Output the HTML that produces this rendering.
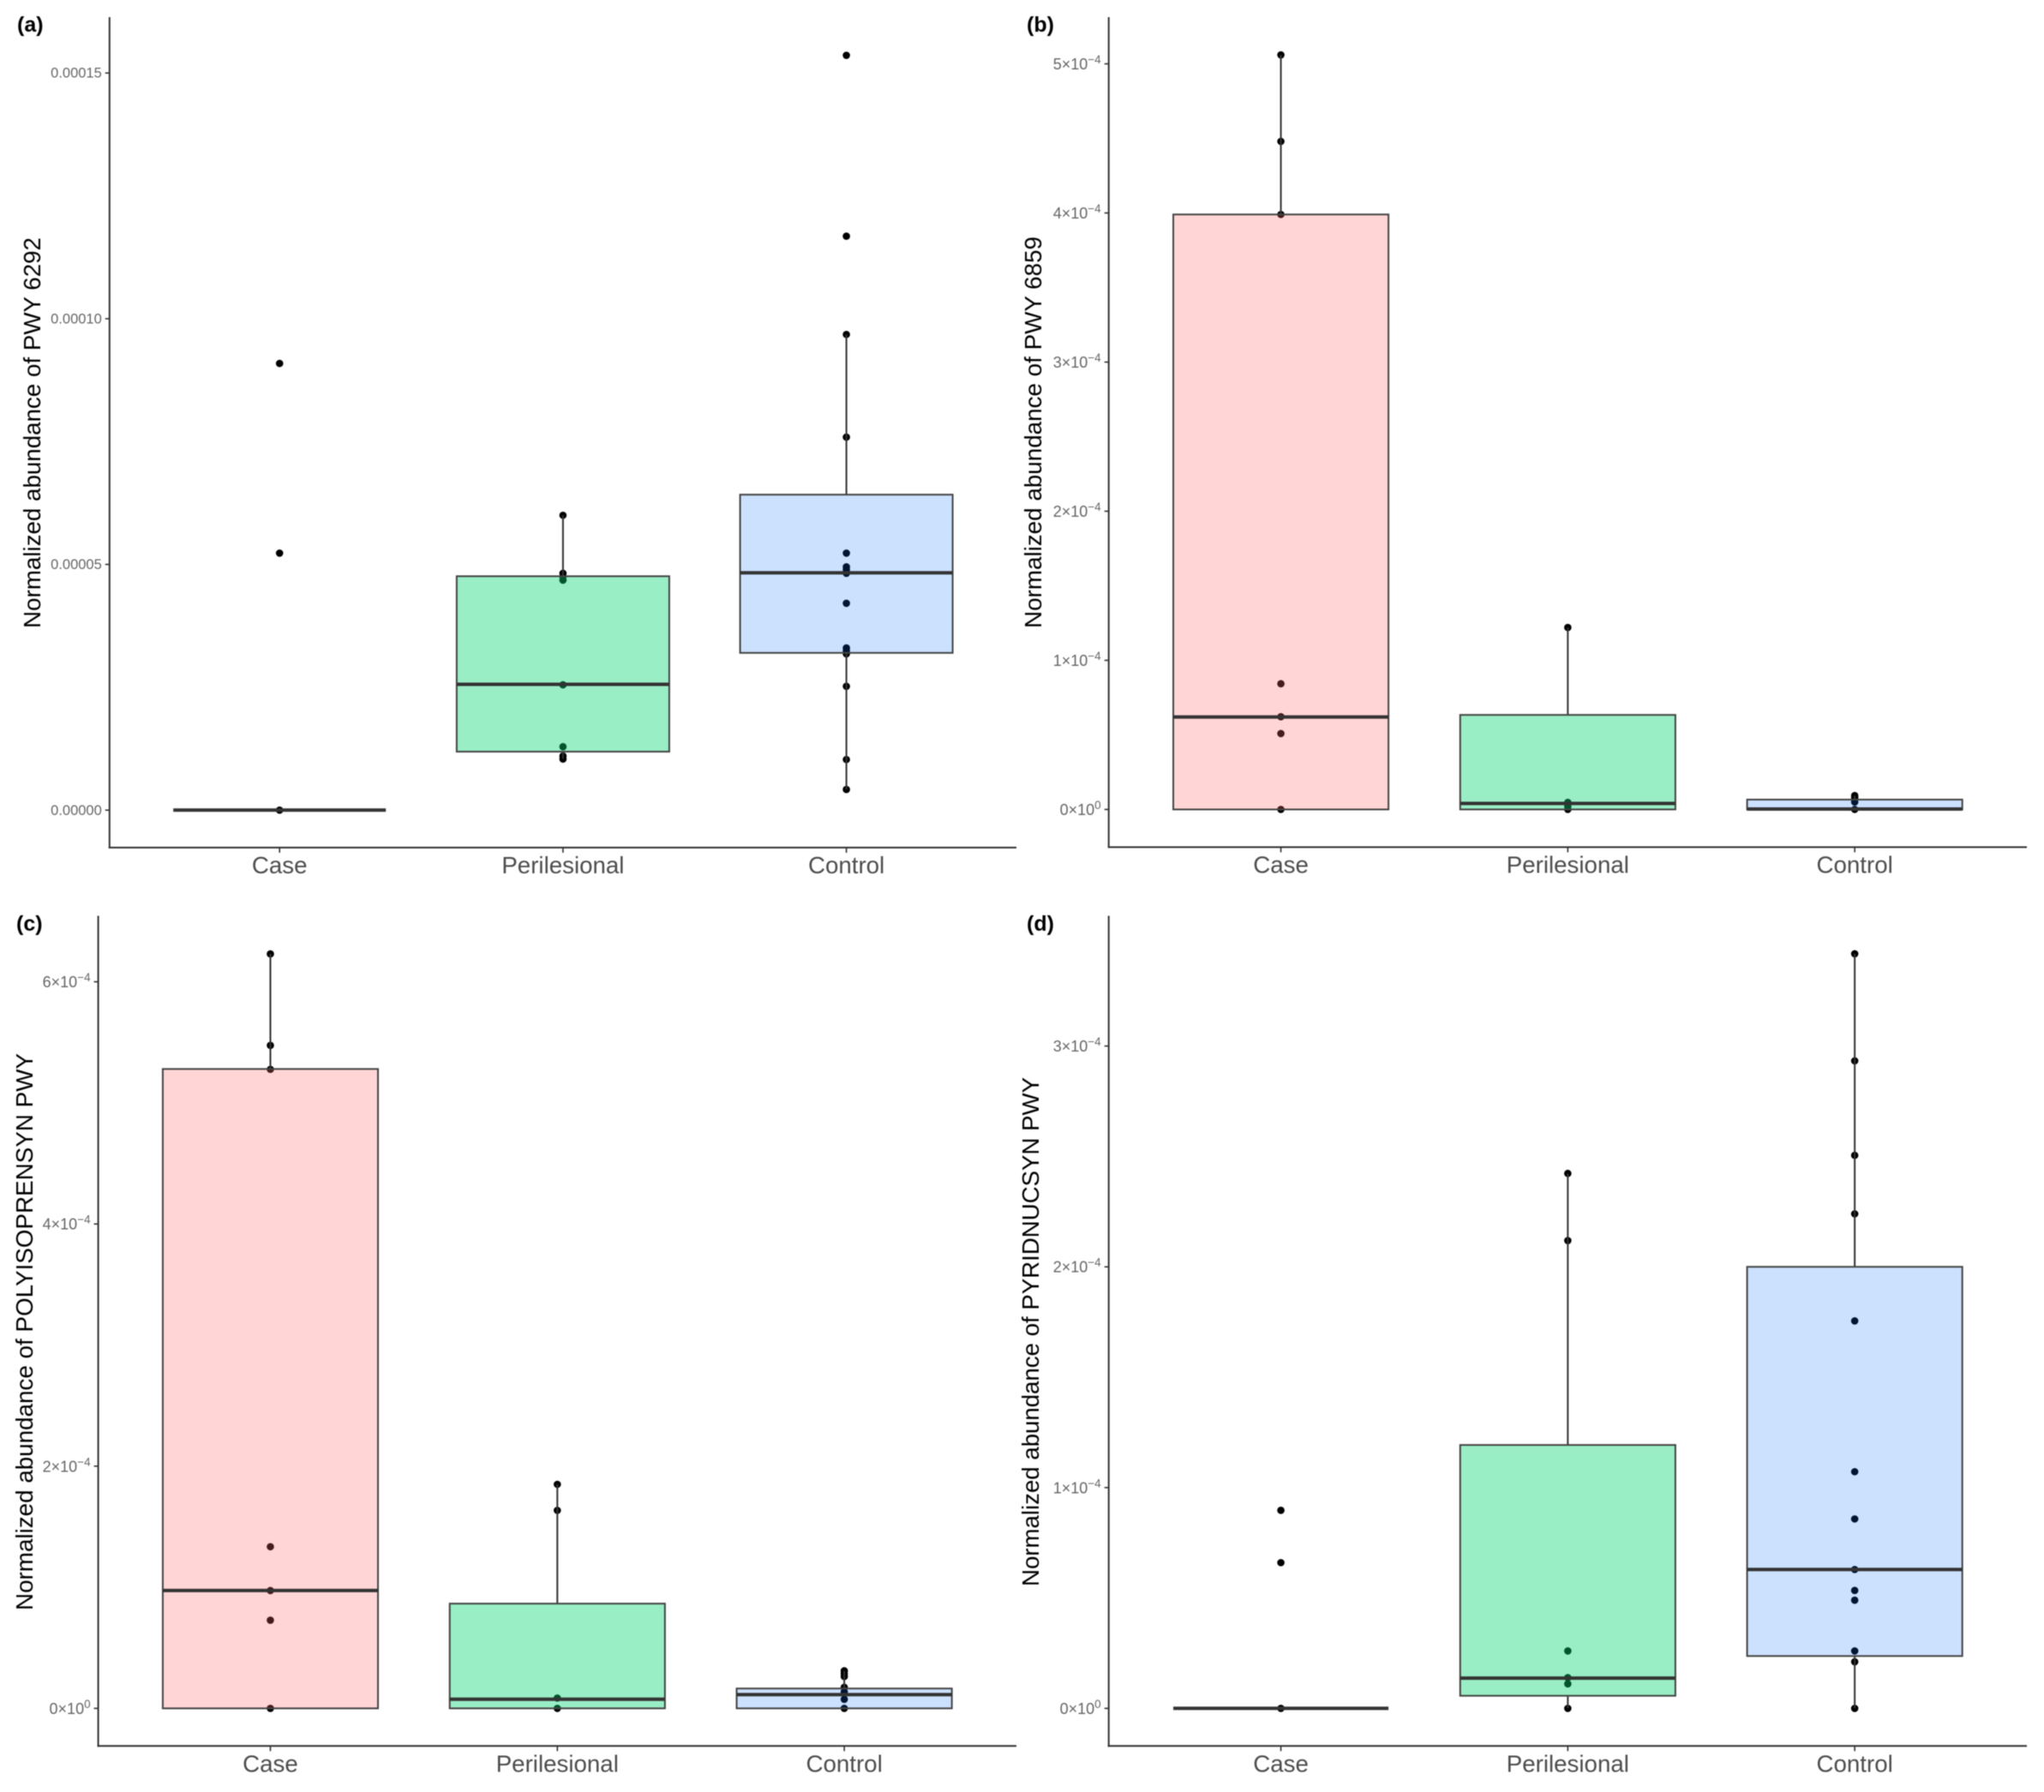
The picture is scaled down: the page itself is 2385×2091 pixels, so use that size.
<!DOCTYPE html>
<html lang="en">
<head>
<meta charset="utf-8">
<title>Normalized pathway abundance box plots</title>
<style>
html,body{margin:0;padding:0;background:#fff;}
body{width:2385px;height:2091px;overflow:hidden;}
svg{display:block;filter:blur(0.55px);}
text{font-family:"Liberation Sans",sans-serif;}
.panel-tag{font-size:25px;font-weight:bold;fill:#000;}
.y-title{font-size:28px;fill:#000;}
</style>
</head>
<body>
<svg id="chart" xmlns="http://www.w3.org/2000/svg" width="2385" height="2091" viewBox="0 0 2385 2091">
  <rect x="0" y="0" width="2385" height="2091" fill="#ffffff"/>
  <g id="panel-a">
    <text class="panel-tag" x="20" y="37">(a)</text>
    <text class="y-title" transform="translate(47,733) rotate(-90)" textLength="456" lengthAdjust="spacingAndGlyphs">Normalized abundance of PWY 6292</text>
  </g>
  <g id="panel-b">
    <text class="panel-tag" x="1198" y="37">(b)</text>
    <text class="y-title" transform="translate(1215,733) rotate(-90)" textLength="457" lengthAdjust="spacingAndGlyphs">Normalized abundance of PWY 6859</text>
  </g>
  <g id="panel-c">
    <text class="panel-tag" x="19" y="1086">(c)</text>
    <text class="y-title" transform="translate(38,1879) rotate(-90)" textLength="650" lengthAdjust="spacingAndGlyphs">Normalized abundance of POLYISOPRENSYN PWY</text>
  </g>
  <g id="panel-d">
    <text class="panel-tag" x="1198" y="1086">(d)</text>
    <text class="y-title" transform="translate(1212,1851) rotate(-90)" textLength="594" lengthAdjust="spacingAndGlyphs">Normalized abundance of PYRIDNUCSYN PWY</text>
  </g>
</svg>
<script>
// ---------- Shared categories ----------
const categories = ["Case", "Perilesional", "Control"];

// ---------- Panel (a): PWY 6292 ----------
const aTicks = [0, 0.00005, 0.0001, 0.00015];
const aTickLabels = ["0.00000", "0.00005", "0.00010", "0.00015"];
const aQ1 = [0, 1.19e-5, 3.20e-5];
const aMedian = [0, 2.56e-5, 4.83e-5];
const aQ3 = [0, 4.76e-5, 6.42e-5];
const aWhiskerLow = [0, 1.04e-5, 0.42e-5];
const aWhiskerHigh = [0, 6.0e-5, 9.68e-5];
const aCasePoints = [9.09e-5, 5.23e-5, 0];
const aPerilesionalPoints = [6.0e-5, 4.82e-5, 4.75e-5, 4.68e-5, 2.55e-5, 1.29e-5, 1.10e-5, 1.04e-5];
const aControlPoints = [15.36e-5, 11.68e-5, 9.68e-5, 7.59e-5, 5.23e-5, 4.95e-5, 4.89e-5, 4.82e-5, 4.21e-5, 3.30e-5, 3.24e-5, 3.18e-5, 2.52e-5, 1.03e-5, 0.42e-5];

// ---------- Panel (b): PWY 6859 ----------
const bTicks = [0, 1e-4, 2e-4, 3e-4, 4e-4, 5e-4];
const bTickMantissas = ["0", "1", "2", "3", "4", "5"];
const bTickExponents = ["0", "\u22124", "\u22124", "\u22124", "\u22124", "\u22124"];
const bQ1 = [0, 0, 0];
const bMedian = [0.62e-4, 0.04e-4, 0.003e-4];
const bQ3 = [3.99e-4, 0.634e-4, 0.066e-4];
const bWhiskerLow = [0, 0, 0];
const bWhiskerHigh = [5.06e-4, 1.22e-4, 0.093e-4];
const bCasePoints = [5.06e-4, 4.48e-4, 3.99e-4, 0.843e-4, 0.622e-4, 0.509e-4, 0];
const bPerilesionalPoints = [1.22e-4, 0.047e-4, 0.02e-4, 0];
const bControlPoints = [0.093e-4, 0.078e-4, 0.05e-4, 0];

// ---------- Panel (c): POLYISOPRENSYN PWY ----------
const cTicks = [0, 2e-4, 4e-4, 6e-4];
const cTickMantissas = ["0", "2", "4", "6"];
const cTickExponents = ["0", "\u22124", "\u22124", "\u22124"];
const cQ1 = [0, 0, 0];
const cMedian = [0.973e-4, 0.075e-4, 0.113e-4];
const cQ3 = [5.28e-4, 0.865e-4, 0.164e-4];
const cWhiskerLow = [0, 0, 0];
const cWhiskerHigh = [6.23e-4, 1.85e-4, 0.31e-4];
const cCasePoints = [6.23e-4, 5.475e-4, 5.277e-4, 1.335e-4, 0.973e-4, 0.728e-4, 0];
const cPerilesionalPoints = [1.85e-4, 1.635e-4, 0.085e-4, 0];
const cControlPoints = [0.31e-4, 0.287e-4, 0.263e-4, 0.174e-4, 0.136e-4, 0.075e-4, 0];

// ---------- Panel (d): PYRIDNUCSYN PWY ----------
const dTicks = [0, 1e-4, 2e-4, 3e-4];
const dTickMantissas = ["0", "1", "2", "3"];
const dTickExponents = ["0", "\u22124", "\u22124", "\u22124"];
const dQ1 = [0, 0.057e-4, 0.237e-4];
const dMedian = [0, 0.137e-4, 0.629e-4];
const dQ3 = [0, 1.193e-4, 2.0e-4];
const dWhiskerLow = [0, 0, 0];
const dWhiskerHigh = [0, 2.423e-4, 3.418e-4];
const dCasePoints = [0.897e-4, 0.66e-4, 0];
const dPerilesionalPoints = [2.423e-4, 2.119e-4, 0.26e-4, 0.139e-4, 0.111e-4, 0];
const dControlPoints = [3.418e-4, 2.933e-4, 2.505e-4, 2.24e-4, 1.755e-4, 1.072e-4, 0.858e-4, 0.629e-4, 0.534e-4, 0.49e-4, 0.26e-4, 0.211e-4, 0];

// ---------- Layout and drawing ----------
const NS = "http://www.w3.org/2000/svg";
const fills = [["#ff6764", 0.27], ["#02d46e", 0.4], ["#0069fa", 0.2]];

function make(tag, attrs, parent) {
  const node = document.createElementNS(NS, tag);
  for (const key in attrs) node.setAttribute(key, attrs[key]);
  parent.appendChild(node);
  return node;
}

function drawPanel(p) {
  const root = document.getElementById(p.id);
  const yOf = function (v) { return p.zeroY - v * p.pxPerUnit; };
  const step = (p.right - p.left) / 3.2;
  const xOf = function (i) { return p.left + step * (0.6 + i); };
  const boxW = step * 0.75;

  // axis lines
  const yAxis = make("line", {x1: p.left, x2: p.left, y1: p.top, y2: p.bottom + 1, stroke: "#333", "stroke-width": 2}, root);
  
  
  const xAxis = make("line", {x1: p.left - 1, x2: p.right, y1: p.bottom, y2: p.bottom, stroke: "#333", "stroke-width": 2}, root);
  
  

  // y ticks and labels
  p.ticks.forEach(function (t, i) {
    const y = yOf(t);
    const tick = make("line", {x1: p.left - 5, x2: p.left, y1: y, y2: y, stroke: "#333", "stroke-width": 1.6}, root);
    
    
    const label = make("text", {x: p.left - 9, y: y + (p.labels ? 5.5 : 6.5), "text-anchor": "end", "font-size": p.labels ? 16.5 : 18, fill: "#666"}, root);
    
    
    if (p.labels) {
      label.textContent = p.labels[i];
    } else {
      const base = make("tspan", {}, label);
      base.textContent = p.mantissas[i] + "\u00d710";
      const exp = make("tspan", {dy: -7, "font-size": 13.5}, label);
      exp.textContent = p.exponents[i];
    }
  });

  // x ticks and labels
  categories.forEach(function (c, i) {
    const x = xOf(i);
    const tick = make("line", {x1: x, x2: x, y1: p.bottom, y2: p.bottom + 6, stroke: "#333", "stroke-width": 1.6}, root);
    
    
    const label = make("text", {x: x, y: p.bottom + 30, "text-anchor": "middle", "font-size": 27.7, fill: "#4d4d4d"}, root);
    
    
    label.textContent = c;
  });

  // data points, drawn beneath the translucent boxes
  categories.forEach(function (c, i) {
    p.points[i].forEach(function (v) {
      const dot = make("circle", {cx: xOf(i), cy: yOf(v), r: 4.3, fill: "#000"}, root);
      
      
    });
  });

  // whiskers, boxes, medians
  categories.forEach(function (c, i) {
    const x = xOf(i);
    if (p.whiskerHigh[i] > p.q3[i]) {
      const upper = make("line", {x1: x, x2: x, y1: yOf(p.q3[i]), y2: yOf(p.whiskerHigh[i]), stroke: "#333", "stroke-width": 2}, root);
      
      
    }
    if (p.whiskerLow[i] < p.q1[i]) {
      const lower = make("line", {x1: x, x2: x, y1: yOf(p.q1[i]), y2: yOf(p.whiskerLow[i]), stroke: "#333", "stroke-width": 2}, root);
      
      
    }
    const box = make("rect", {
      x: x - boxW / 2,
      y: yOf(p.q3[i]),
      width: boxW,
      height: yOf(p.q1[i]) - yOf(p.q3[i]),
      fill: fills[i][0],
      "fill-opacity": fills[i][1],
      stroke: "#444",
      "stroke-width": 2
    }, root);
    
    
    const median = make("line", {x1: x - boxW / 2, x2: x + boxW / 2, y1: yOf(p.median[i]), y2: yOf(p.median[i]), stroke: "#333", "stroke-width": 4}, root);
    
    
  });
}

drawPanel({
  id: "panel-a", left: 127.8, right: 1186, top: 20, bottom: 989, zeroY: 945.3, pxPerUnit: 286.7 / 5e-5,
  ticks: aTicks, labels: aTickLabels,
  q1: aQ1, median: aMedian, q3: aQ3, whiskerLow: aWhiskerLow, whiskerHigh: aWhiskerHigh,
  points: [aCasePoints, aPerilesionalPoints, aControlPoints]
});
drawPanel({
  id: "panel-b", left: 1293.7, right: 2365, top: 20, bottom: 988.5, zeroY: 944.5, pxPerUnit: 174 / 1e-4,
  ticks: bTicks, mantissas: bTickMantissas, exponents: bTickExponents,
  q1: bQ1, median: bMedian, q3: bQ3, whiskerLow: bWhiskerLow, whiskerHigh: bWhiskerHigh,
  points: [bCasePoints, bPerilesionalPoints, bControlPoints]
});
drawPanel({
  id: "panel-c", left: 114.6, right: 1186, top: 1068.6, bottom: 2037.3, zeroY: 1993.4, pxPerUnit: 141.3 / 1e-4,
  ticks: cTicks, mantissas: cTickMantissas, exponents: cTickExponents,
  q1: cQ1, median: cMedian, q3: cQ3, whiskerLow: cWhiskerLow, whiskerHigh: cWhiskerHigh,
  points: [cCasePoints, cPerilesionalPoints, cControlPoints]
});
drawPanel({
  id: "panel-d", left: 1293.7, right: 2365, top: 1068.6, bottom: 2037.3, zeroY: 1993.4, pxPerUnit: 257.6 / 1e-4,
  ticks: dTicks, mantissas: dTickMantissas, exponents: dTickExponents,
  q1: dQ1, median: dMedian, q3: dQ3, whiskerLow: dWhiskerLow, whiskerHigh: dWhiskerHigh,
  points: [dCasePoints, dPerilesionalPoints, dControlPoints]
});
</script>
</body>
</html>
